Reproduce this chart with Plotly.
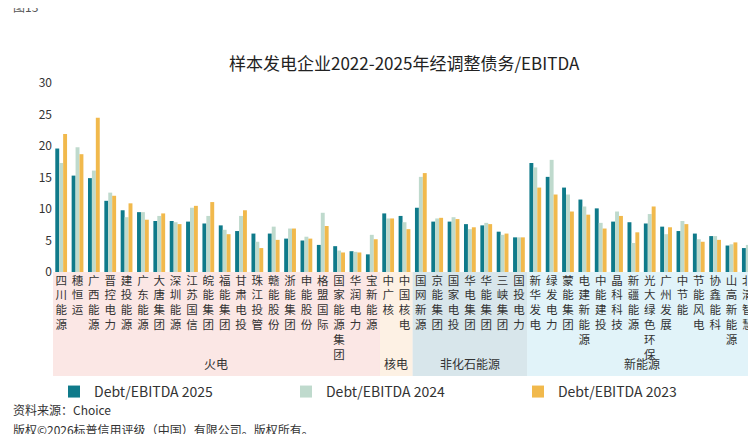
import plotly.graph_objects as go

companies = ["四川能源", "穗恒运", "广西能源", "晋控电力", "建投能源", "广东能源", "大唐集团", "深圳能源",
             "江苏国信", "皖能集团", "福能集团", "甘肃电投", "珠江投管", "赣能股份", "浙能集团", "申能股份",
             "格盟国际", "国家能源集团", "华润电力", "宝新能源",
             "中广核", "中国核电",
             "国网新源", "京能集团", "国家电投", "华电集团", "华能集团", "三峡集团", "国投电力",
             "新华发电", "绿发电力", "蒙能集团", "电建新能源", "中能建投", "晶科科技", "新疆能源",
             "光大绿色环保", "广州发展", "中节能", "节能风电", "协鑫能科", "山高新能源", "北清智慧"]

debt_2025 = [19.6, 15.3, 14.9, 11.3, 9.8, 9.5, 8.1, 8.1, 8.0, 7.7, 7.4, 6.5, 6.1, 6.1, 5.3, 5.0, 4.3, 4.1, 3.3, 2.8,
             9.3, 8.9,
             10.2, 8.0, 8.0, 7.6, 7.4, 6.4, 5.5,
             17.3, 15.1, 13.4, 11.5, 10.1, 8.0, 7.9, 7.7, 7.2, 6.5, 6.1, 5.7, 4.2, 3.8]
debt_2024 = [17.3, 19.8, 16.1, 12.6, 8.7, 9.5, 8.9, 7.9, 10.2, 8.9, 6.7, 8.9, 4.8, 7.2, 6.9, 5.6, 9.4, 3.4, 3.2, 5.9,
             8.5, 7.9,
             15.1, 8.5, 8.7, 6.8, 7.8, 5.9, 5.5,
             16.6, 17.8, 12.3, 10.4, 7.8, 9.6, 4.6, 9.2, 6.0, 8.1, 5.2, 5.7, 4.4, 4.3]
debt_2023 = [21.9, 18.7, 24.5, 12.1, 10.9, 8.3, 9.3, 7.6, 10.5, 11.1, 6.0, 9.8, 3.8, 5.1, 6.9, 5.3, 7.3, 3.1, 3.1, 5.2,
             8.5, 6.8,
             15.7, 8.6, 8.4, 7.1, 7.6, 6.1, 5.5,
             13.4, 12.3, 9.6, 9.1, 6.9, 8.9, 6.3, 10.4, 7.1, 7.6, 4.8, 5.1, 4.7, 4.0]

groups = ["火电", "核电", "非化石能源", "新能源"]
group_sizes = [20, 2, 7, 14]
group_colors = ["rgba(248,215,212,0.6)", "rgba(252,232,210,0.6)", "rgba(200,220,226,0.7)", "rgba(212,238,247,0.7)"]

FONT = "Noto Sans CJK SC"
fig = go.Figure()
names = ["Debt/EBITDA 2025", "Debt/EBITDA 2024", "Debt/EBITDA 2023"]
colors = ["#0f7a8a", "#bfdacd", "#f1b94c"]
x_idx = list(range(len(companies)))
for name, vals, c in zip(names, [debt_2025, debt_2024, debt_2023], colors):
    fig.add_trace(go.Bar(x=x_idx, y=vals, name=name, marker_color=c, marker_line_width=0))

# 分组背景
shapes = []
annotations = []
start = 0
for g, n, col in zip(groups, group_sizes, group_colors):
    x0, x1 = start - 0.5, start + n - 0.5
    shapes.append(dict(type="rect", xref="x", yref="paper", x0=x0, x1=x1, y0=-0.55, y1=0,
                       fillcolor=col, line_width=0, layer="below"))
    annotations.append(dict(text=g, xref="x", yref="paper", x=(x0 + x1) / 2, y=-0.54, yanchor="bottom",
                            showarrow=False, font=dict(size=12, color="#333")))
    start += n

annotations += [
    dict(text="图13", xref="paper", yref="paper", x=-0.06, xanchor="left", y=1.35, yanchor="bottom",
         showarrow=False, font=dict(size=12, color="#555")),
    dict(text="样本发电企业2022-2025年经调整债务/EBITDA", xref="paper", yref="paper", x=0.5, y=1.03,
         yanchor="bottom", showarrow=False, font=dict(size=17, color="#222")),
    dict(text="资料来源：Choice", xref="paper", yref="paper", x=-0.06, xanchor="left", y=-0.67,
         yanchor="top", showarrow=False, font=dict(size=12, color="#333")),
    dict(text="版权©2026标普信用评级（中国）有限公司。版权所有。", xref="paper", yref="paper", x=-0.06,
         xanchor="left", y=-0.78, yanchor="top", showarrow=False, font=dict(size=12, color="#333")),
]

fig.update_layout(
    width=756, height=434,
    margin=dict(l=45, r=8, t=75, b=170),
    paper_bgcolor="white", plot_bgcolor="white",
    font=dict(family=FONT, color="#333"),
    barmode="group", bargap=0.28, bargroupgap=0,
    shapes=shapes, annotations=annotations,
    legend=dict(orientation="h", x=0.5, xanchor="center", y=-0.55, yanchor="top",
                font=dict(size=14), traceorder="normal", itemwidth=30,
                entrywidth=0.33, entrywidthmode="fraction"),
    showlegend=True,
)
fig.update_xaxes(tickvals=x_idx, ticktext=["<br>".join(c) for c in companies],
                 tickfont=dict(size=11.5, color="#333"), ticks="", range=[-0.5, len(companies) - 0.5],
                 showline=False, tickangle=0, automargin=False)
fig.update_yaxes(range=[0, 30], dtick=5, showgrid=False, zeroline=False, showline=False,
                 tickfont=dict(size=12, color="#333"), automargin=False)

fig.write_html("out.html")
